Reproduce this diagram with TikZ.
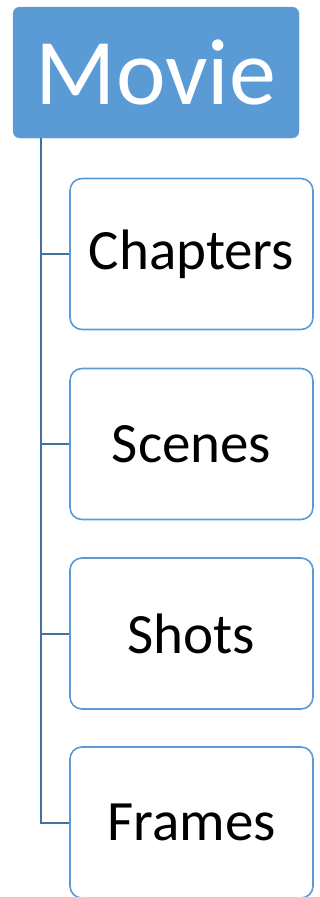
\documentclass[tikz,border=0pt]{standalone}
\usepackage{fontspec}
\setmainfont{Carlito}
\definecolor{accent}{HTML}{5B9BD5}
\definecolor{linec}{HTML}{41719C}
\begin{document}
\begin{tikzpicture}[x=1pt,y=-1pt,
  rootbox/.style={fill=accent,draw=accent,rounded corners=7pt,minimum width=286pt,minimum height=131pt,inner sep=0pt,text=white,font=\fontsize{94}{100}\selectfont},
  childbox/.style={fill=white,draw=accent,line width=1.6pt,rounded corners=12pt,minimum width=243pt,minimum height=151pt,inner sep=0pt,font=\fontsize{57}{62}\selectfont},
  link/.style={draw=linec,line width=2pt}]
\useasboundingbox (0,0) rectangle (320,897);
\node[rootbox] (movie) at (156,72.5) {Movie};
\node[childbox] (c1) at (191.5,254) {Chapters};
\node[childbox] (c2) at (191.5,444) {Scenes};
\node[childbox] (c3) at (191.5,633.5) {Shots};
\node[childbox] (c4) at (191.5,822.5) {Frames};
\coordinate (top) at (41,138);
\draw[link] (top) |- (c1.west);
\draw[link] (top) |- (c2.west);
\draw[link] (top) |- (c3.west);
\draw[link] (top) |- (c4.west);
\end{tikzpicture}
\end{document}
